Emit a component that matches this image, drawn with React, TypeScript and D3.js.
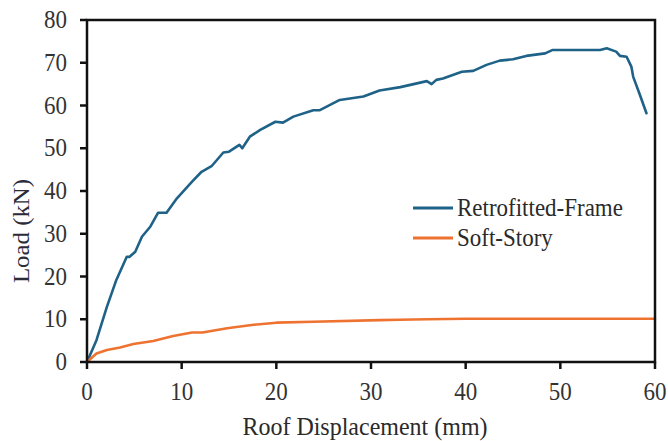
import React from "react";
import * as d3 from "d3";

const retroDisp = [0, 1.0, 2.1, 3.1, 4.2, 4.5, 5.1, 5.8, 6.7, 7.5, 8.4, 9.5, 11.1, 12.1, 13.2, 14.4, 15.0, 16.1, 16.4, 17.2, 18.3, 19.9, 20.7, 21.8, 23.9, 24.6, 26.7, 29.2, 30.9, 33.1, 34.5, 35.9, 36.4, 36.9, 37.6, 39.6, 40.8, 42.2, 43.6, 45.0, 46.4, 48.4, 49.2, 54.2, 54.9, 55.9, 56.3, 57.0, 57.5, 57.7, 58.4, 59.1];
const retroLoad = [0, 5.1, 12.9, 19.2, 24.6, 24.6, 25.8, 29.3, 31.7, 34.9, 34.9, 38.3, 42.2, 44.5, 45.9, 49.0, 49.2, 50.8, 50.0, 52.7, 54.3, 56.2, 56.0, 57.4, 58.9, 58.9, 61.3, 62.1, 63.5, 64.3, 65.0, 65.7, 65.0, 66.0, 66.3, 67.9, 68.1, 69.5, 70.5, 70.8, 71.6, 72.2, 73.0, 73.0, 73.4, 72.6, 71.6, 71.4, 69.1, 66.7, 62.5, 58.2];

const softDisp = [0, 1.0, 2.1, 3.5, 4.9, 7.0, 9.1, 11.1, 12.2, 14.8, 17.6, 20.0, 23.9, 30.9, 33.0, 36.0, 40.0, 45.0, 50.0, 55.0, 60.0];
const softLoad = [0, 2.0, 2.8, 3.4, 4.2, 4.9, 6.1, 6.9, 6.9, 7.9, 8.7, 9.2, 9.4, 9.8, 9.9, 10.0, 10.1, 10.1, 10.1, 10.1, 10.1];

const xTicks = [0, 10, 20, 30, 40, 50, 60];
const yTicks = [0, 10, 20, 30, 40, 50, 60, 70, 80];
const seriesNames = ["Retrofitted-Frame", "Soft-Story"];
const seriesColors = ["#1f6288", "#ee7330"];
const xTitle = "Roof Displacement (mm)";
const yTitle = "Load (kN)";

const W = 668;
const H = 441;
const L = 87, R = 655, T = 20, B = 362;
const FONT = "'Liberation Serif', 'Times New Roman', serif";
const SY = 1.08;

export default function App() {
  const x = d3.scaleLinear().domain([0, 60]).range([L, R]);
  const y = d3.scaleLinear().domain([0, 80]).range([B, T]);
  const line = d3
    .line<[number, number]>()
    .x((d) => x(d[0]))
    .y((d) => y(d[1]));
  const retro = retroDisp.map((d, i) => [d, retroLoad[i]] as [number, number]);
  const soft = softDisp.map((d, i) => [d, softLoad[i]] as [number, number]);
  const series = [retro, soft];

  return (
    <svg
      width={W}
      height={H}
      style={{ position: "absolute", left: 0, top: 0, background: "#fff" }}
    >
      <rect x={0} y={0} width={W} height={H} fill="#fff" />
      {series.map((s, i) => (
        <path
          key={i}
          d={line(s) || ""}
          fill="none"
          stroke={seriesColors[i]}
          strokeWidth={2.6}
          strokeLinejoin="round"
          strokeLinecap="round"
        />
      ))}
      <rect x={L} y={T} width={R - L} height={B - T} fill="none" stroke="#111" strokeWidth={2.5} />
      {xTicks.map((t) => (
        <g key={"x" + t}>
          <line x1={x(t)} x2={x(t)} y1={B} y2={B + 7} stroke="#111" strokeWidth={2.5} />
          <g transform={`translate(${x(t)},${B + 38}) scale(1,${SY})`}>
            <text textAnchor="middle" fontFamily={FONT} fontSize={23} fill="#333">
              {t}
            </text>
          </g>
        </g>
      ))}
      {yTicks.map((t) => (
        <g key={"y" + t}>
          <line x1={L - 7} x2={L} y1={y(t)} y2={y(t)} stroke="#111" strokeWidth={2.5} />
          <g transform={`translate(${L - 20},${y(t) + 8}) scale(1,${SY})`}>
            <text textAnchor="end" fontFamily={FONT} fontSize={23} fill="#333">
              {t}
            </text>
          </g>
        </g>
      ))}
      <g transform={`translate(${(L + R) / 2 - 6},${435}) scale(1,${SY})`}>
        <text textAnchor="middle" fontFamily={FONT} fontSize={24} fill="#2a2a2a">
          {xTitle}
        </text>
      </g>
      <g transform={`translate(29,231) scale(1,${SY}) rotate(-90)`}>
        <text textAnchor="middle" fontFamily={FONT} fontSize={23} fill="#2b2b3a">
          {yTitle}
        </text>
      </g>
      {seriesNames.map((n, i) => (
        <g key={n}>
          <line
            x1={413}
            x2={453}
            y1={208 + i * 30}
            y2={208 + i * 30}
            stroke={seriesColors[i]}
            strokeWidth={3}
          />
          <g transform={`translate(457,${216 + i * 30}) scale(1,${SY})`}>
            <text fontFamily={FONT} fontSize={23} fill="#2a2a2a">
              {n}
            </text>
          </g>
        </g>
      ))}
    </svg>
  );
}
